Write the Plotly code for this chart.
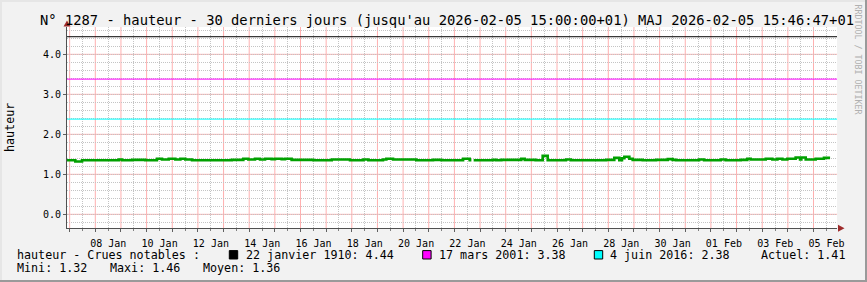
import pandas as pd
import plotly.graph_objects as go

# ---------------- data ----------------
base_time = pd.Timestamp("2026-01-07 00:00")
# step change times (hours after 2026-01-07 00:00) and water level (m) from that time on
step_hours = [-2.5, 5.3, 11.6, 45.9, 49.0, 58.3, 70.8, 81.7, 86.4, 92.7, 98.9, 103.6, 108.2, 114.5,
              151.6, 162.5, 167.2, 173.4, 178.1, 182.8, 189.0, 192.1, 198.4, 201.5, 207.7, 228.0,
              245.2, 262.3, 274.8, 279.5, 293.2, 296.3, 302.6, 324.4, 340.0, 347.8, 368.1, 374.3,
              375.9, 376.0, 378.0, 396.1, 399.2, 403.9, 422.6, 425.8, 436.0, 442.6, 447.3, 464.4,
              469.1, 501.9, 509.6, 514.3, 516.8, 519.0, 523.7, 526.8, 536.2, 548.6, 559.6, 564.2,
              567.4, 588.9, 593.6, 609.2, 613.8, 627.9, 634.1, 637.2, 651.3, 657.5, 662.2, 666.9,
              671.5, 679.3, 683.4, 684.6, 688.7, 698.0, 705.8, 711.5]
step_values = [1.35, 1.32, 1.35, 1.37, 1.35, 1.36, 1.35, 1.39, 1.37, 1.39, 1.37, 1.39, 1.37, 1.35,
               1.36, 1.39, 1.37, 1.39, 1.37, 1.39, 1.38, 1.39, 1.38, 1.39, 1.36, 1.35,
               1.37, 1.35, 1.37, 1.35, 1.37, 1.39, 1.37, 1.35, 1.36, 1.35, 1.39, 1.35,
               1.35, None, 1.35, 1.36, 1.35, 1.36, 1.39, 1.36, 1.35, 1.46, 1.35, 1.37,
               1.35, 1.36, 1.41, 1.35, 1.40, 1.44, 1.39, 1.36, 1.35, 1.36, 1.38, 1.36,
               1.35, 1.37, 1.35, 1.37, 1.35, 1.36, 1.39, 1.37, 1.39, 1.37, 1.39, 1.37,
               1.39, 1.42, 1.37, 1.42, 1.37, 1.39, 1.41, 1.41]

crue_labels = ["22 janvier 1910", "17 mars 2001", "4 juin 2016"]
crue_values = [4.44, 3.38, 2.38]
crue_colors = ["#000000", "#FF00FF", "#00FFFF"]

stat_names = ["Mini", "Maxi", "Moyen"]
stat_values = [1.32, 1.46, 1.36]
current_value = 1.41

y_ticks = [0, 1, 2, 3, 4]
y_range = [-0.342, 4.683]
grid_days = pd.date_range("2026-01-07", "2026-02-05", freq="D")
label_days = pd.date_range("2026-01-08", "2026-02-05", freq="2D")
x_range = ["2026-01-06 21:31", "2026-02-05 21:59"]

title_text = "N° 1287 - hauteur - 30 derniers jours (jusqu'au 2026-02-05 15:00:00+01) MAJ 2026-02-05 15:46:47+01"

# ---------------- layout helpers ----------------
W, H = 867, 282
L, R, T, B = 67, 30, 27, 54
PW, PH = W - L - R, H - T - B


def px(X):
    return (X - L) / PW


def py(Y):
    return (H - B - Y) / PH


MONO = "DejaVu Sans Mono"
MGRID = "#FFB0B0"
GRID = "#C4C4C4"
DASH = "1px,1px"

times = [base_time + pd.Timedelta(hours=h) for h in step_hours]

fig = go.Figure()
fig.add_trace(go.Scatter(x=times, y=step_values, mode="lines", line=dict(color="#00A000", width=2.6, shape="hv"),
                         connectgaps=False, showlegend=False, hoverinfo="skip"))

shapes = []
# major (red) grid: each midnight and each whole metre, below the data line
for d in grid_days:
    shapes.append(dict(type="line", xref="x", yref="y", x0=d, x1=d, y0=y_range[0], y1=y_range[1], layer="below",
                       line=dict(color=MGRID, width=1)))
for v in y_ticks:
    shapes.append(dict(type="line", xref="x", yref="y", x0=x_range[0], x1=x_range[1], y0=v, y1=v, layer="below",
                       line=dict(color=MGRID, width=1)))
# crue reference levels
for v, c in zip(crue_values, crue_colors):
    shapes.append(dict(type="line", xref="x", yref="y", x0=x_range[0], x1=x_range[1], y0=v, y1=v,
                       line=dict(color=c, width=1)))

# labels sit at noon of every second day (rrdtool style)
day_px = PW / ((pd.Timestamp(x_range[1]) - pd.Timestamp(x_range[0])) / pd.Timedelta(days=1))
label_set = set(label_days)
ticktext = [d.strftime("%d %b") if d in label_set else "" for d in grid_days]

fig.update_layout(
    width=W, height=H,
    margin=dict(l=L, r=R, t=T, b=B, pad=0),
    paper_bgcolor="#F2F2F2", plot_bgcolor="#FFFFFF",
    showlegend=False,
    xaxis=dict(type="date", range=x_range, tickmode="array", tickvals=list(grid_days),
               ticktext=ticktext, ticklabelshift=int(round(day_px / 2)), ticklabelstandoff=3,
               showgrid=False,
               ticks="outside", ticklen=3, tickcolor="#606060",
               minor=dict(tick0="2026-01-07 12:00", dtick=86400000, showgrid=True, gridcolor=GRID,
                          griddash=DASH, ticks="outside", ticklen=2, tickcolor="#808080"),
               showline=True, linecolor="#505050", linewidth=1, zeroline=False,
               tickfont=dict(family=MONO, size=10, color="#000000"), fixedrange=True),
    yaxis=dict(range=y_range, tickmode="array", tickvals=y_ticks,
               ticktext=[f"{v:.1f}" for v in y_ticks],
               showgrid=False,
               minor=dict(dtick=0.2, tick0=0, showgrid=True, gridcolor=GRID, griddash=DASH, ticks=""),
               ticks="outside", ticklen=3, tickcolor="#606060",
               showline=True, linecolor="#505050", linewidth=1, zeroline=False,
               tickfont=dict(family=MONO, size=10, color="#000000"), fixedrange=True),
)

ann = []
ann.append(dict(text=title_text, x=px(447), y=py(19.5), xref="paper", yref="paper", showarrow=False,
                xanchor="center", yanchor="middle", font=dict(family=MONO, size=13.8, color="#000000")))
ann.append(dict(text="hauteur", x=px(10), y=py(128), xref="paper", yref="paper", showarrow=False,
                textangle=-90, xanchor="center", yanchor="middle", font=dict(family=MONO, size=11.7, color="#000000")))
ann.append(dict(text="RRDTOOL / TOBI OETIKER", x=px(857.5), y=py(60), xref="paper", yref="paper", showarrow=False,
                textangle=90, xanchor="center", yanchor="middle", font=dict(family=MONO, size=8.3, color="#B0B0B0")))

LEG = dict(family=MONO, size=11.7, color="#000000")
ann.append(dict(text="hauteur - Crues notables :", x=px(15), y=py(254.5), xref="paper", yref="paper",
                showarrow=False, xanchor="left", yanchor="middle", font=LEG))
sq_x = [229.3, 422.7, 594.3]
txt_x = [243.5, 436.7, 608.3]
for lab, v, c, sx, tx in zip(crue_labels, crue_values, crue_colors, sq_x, txt_x):
    shapes.append(dict(type="rect", xref="paper", yref="paper", x0=px(sx), x1=px(sx + 8.4),
                       y0=py(259), y1=py(250.6), fillcolor=c, line=dict(color="#000000", width=1)))
    ann.append(dict(text=f"{lab}: {v:.2f}", x=px(tx), y=py(254.5), xref="paper", yref="paper",
                    showarrow=False, xanchor="left", yanchor="middle", font=LEG))
ann.append(dict(text=f"Actuel: {current_value:.2f}", x=px(759), y=py(254.5), xref="paper", yref="paper",
                showarrow=False, xanchor="left", yanchor="middle", font=LEG))
for n, v, sx in zip(stat_names, stat_values, [15, 108, 201.3]):
    ann.append(dict(text=f"{n}: {v:.2f}", x=px(sx), y=py(268.3), xref="paper", yref="paper",
                    showarrow=False, xanchor="left", yanchor="middle", font=LEG))

# axis arrows
shapes.append(dict(type="path", xref="paper", yref="paper",
                   path=f"M {px(63.5)} {py(26.5)} L {px(67)} {py(20.5)} L {px(70.5)} {py(26.5)} Z",
                   fillcolor="#9E2B2B", line=dict(width=0)))
shapes.append(dict(type="path", xref="paper", yref="paper",
                   path=f"M {px(838)} {py(224.8)} L {px(844.5)} {py(228.3)} L {px(838)} {py(231.8)} Z",
                   fillcolor="#9E2B2B", line=dict(width=0)))
# image frame (rrdtool style shading)
shapes.append(dict(type="rect", xref="paper", yref="paper", x0=px(0), x1=px(W), y0=py(2), y1=py(0),
                   fillcolor="#E6E6E6", line=dict(width=0)))
shapes.append(dict(type="rect", xref="paper", yref="paper", x0=px(0), x1=px(2), y0=py(H), y1=py(0),
                   fillcolor="#E6E6E6", line=dict(width=0)))
shapes.append(dict(type="rect", xref="paper", yref="paper", x0=px(0), x1=px(W), y0=py(H), y1=py(H - 2),
                   fillcolor="#9A9A9A", line=dict(width=0)))
shapes.append(dict(type="rect", xref="paper", yref="paper", x0=px(W - 2), x1=px(W), y0=py(H), y1=py(0),
                   fillcolor="#9A9A9A", line=dict(width=0)))

fig.update_layout(annotations=ann, shapes=shapes)

fig.write_html("out.html", config={"displayModeBar": False})
